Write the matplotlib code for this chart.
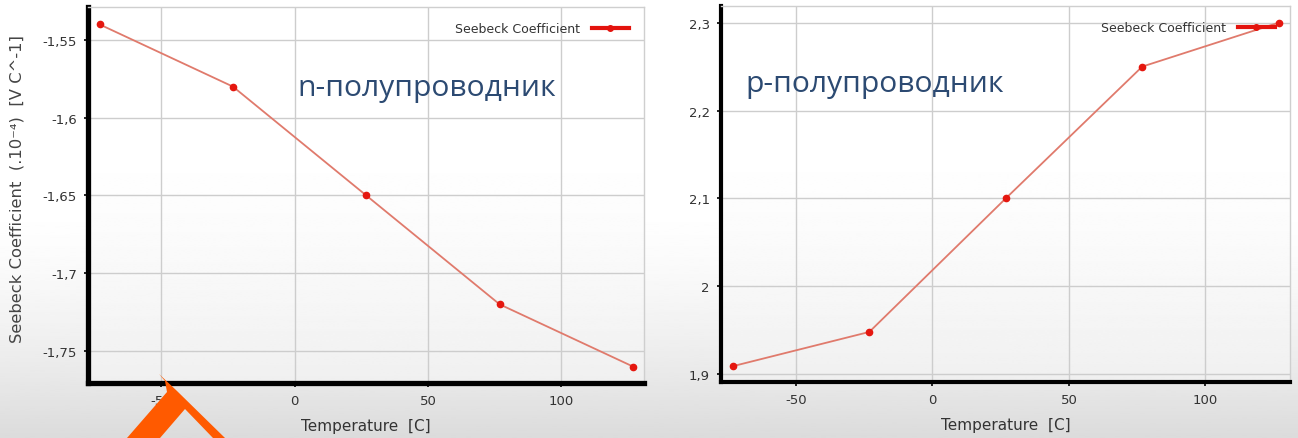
import matplotlib
matplotlib.use('Agg')
import matplotlib.pyplot as plt
import numpy as np
from matplotlib.lines import Line2D
from matplotlib.patches import Polygon

# temperatures 200..400 K expressed in Celsius
temperature_c = [-73.15, -23.15, 26.85, 76.85, 126.85]
seebeck_n = [-1.54, -1.58, -1.65, -1.72, -1.76]
seebeck_p = [1.909, 1.948, 2.10, 2.25, 2.30]

x_ticks = [-50, 0, 50, 100]
n_yticks = [-1.55, -1.6, -1.65, -1.7, -1.75]
p_yticks = [1.9, 2.0, 2.1, 2.2, 2.3]

series_name = 'Seebeck Coefficient'
x_title = 'Temperature  [C]'
y_title = 'Seebeck Coefficient  (.10⁻⁴)  [V C^-1]'
n_title = 'n-полупроводник'
p_title = 'p-полупроводник'

W, H = 1298, 439
fig = plt.figure(figsize=(W / 100, H / 100), dpi=100)

# panel rectangles in figure fractions
n_rect = [88 / W, 1 - 384 / H, (644 - 88) / W, (384 - 8) / H]
p_rect = [721 / W, 1 - 383 / H, (1290 - 721) / W, (383 - 7) / H]

# grey screen background with lighter plot areas
bg = fig.add_axes([0, 0, 1, 1], zorder=-10)
bg.set_axis_off()
t = np.linspace(0, 1, 200)
shade = 1.0 - 0.14 * np.clip((t - 0.45) / 0.55, 0, 1) ** 1.6
bg.imshow(shade[:, None], cmap='gray', vmin=0, vmax=1, aspect='auto',
          extent=[0, 1, 0, 1], origin='upper', interpolation='bilinear')
for r in (n_rect, p_rect):
    inner = 1.0 - 0.06 * np.clip((t - 0.35) / 0.65, 0, 1) ** 1.4
    bg.imshow(inner[:, None], cmap='gray', vmin=0, vmax=1, aspect='auto',
              extent=[r[0], r[0] + r[2], r[1], r[1] + r[3]], origin='upper',
              interpolation='bilinear')
bg.set_xlim(0, 1)
bg.set_ylim(0, 1)


def fmt(v):
    return f'{v:g}'.replace('.', ',')


def draw_panel(rect, values, yticks, ylim, spine_w, title, title_pos):
    ax = fig.add_axes(rect)
    ax.set_facecolor('none')
    ax.plot(temperature_c, values, color='#e07a6c', lw=1.3, zorder=3)
    ax.plot(temperature_c, values, ls='none', marker='o', ms=4.5,
            mfc='#e5170f', mec='#e5170f', zorder=4)
    ax.set_xlim(-77.5, 131)
    ax.set_ylim(*ylim)
    ax.set_xticks(x_ticks)
    ax.set_yticks(yticks)
    ax.set_xticklabels([fmt(v) for v in x_ticks])
    ax.set_yticklabels([fmt(v) for v in yticks])
    ax.grid(True, color='#cdcdcd', lw=1)
    ax.set_axisbelow(True)
    for s in ('left', 'bottom'):
        ax.spines[s].set_linewidth(spine_w)
        ax.spines[s].set_color('black')
    for s in ('top', 'right'):
        ax.spines[s].set_linewidth(1)
        ax.spines[s].set_color('#cfcfcf')
    ax.tick_params(length=3, width=1.2, color='black', labelsize=9.5,
                   labelcolor='#333333', pad=5)
    ax.set_xlabel(x_title, fontsize=11, color='#333333', labelpad=8)
    handle = Line2D([], [], color='#e3130d', lw=3, marker='o', ms=4)
    ax.legend([handle], [series_name], loc='upper right', frameon=False,
              fontsize=9, handlelength=3, borderaxespad=0.8, markerfirst=False,
              handletextpad=0.9, labelcolor='#333333',
              bbox_to_anchor=(1.0, 1.0))
    ax.text(title_pos[0], title_pos[1], title, transform=ax.transAxes,
            fontsize=21.6, color='#2c4a72', family='Open Sans', va='center')
    return ax


ax_n = draw_panel(n_rect, seebeck_n, n_yticks, (-1.7706, -1.5288), 3.8,
                  n_title, (0.376, 0.787))
ax_p = draw_panel(p_rect, seebeck_p, p_yticks, (1.891, 2.319), 3.0,
                  p_title, (0.042, 0.793))

fig.text(17 / W, 1 - 189 / H, y_title, rotation=90, ha='center', va='center',
         fontsize=11.8, color='#444444')

# orange pen stroke over the lower left corner
stroke = [(159, 375), (177, 392), (225, 439), (213, 439), (185, 410),
          (160, 439), (127, 439), (167, 393), (165, 382)]
fig.patches.append(Polygon([(x / W, 1 - y / H) for x, y in stroke],
                           closed=True, transform=fig.transFigure,
                           facecolor='#ff5a00', edgecolor='none', zorder=20))

fig.savefig('out.png', dpi=100)
